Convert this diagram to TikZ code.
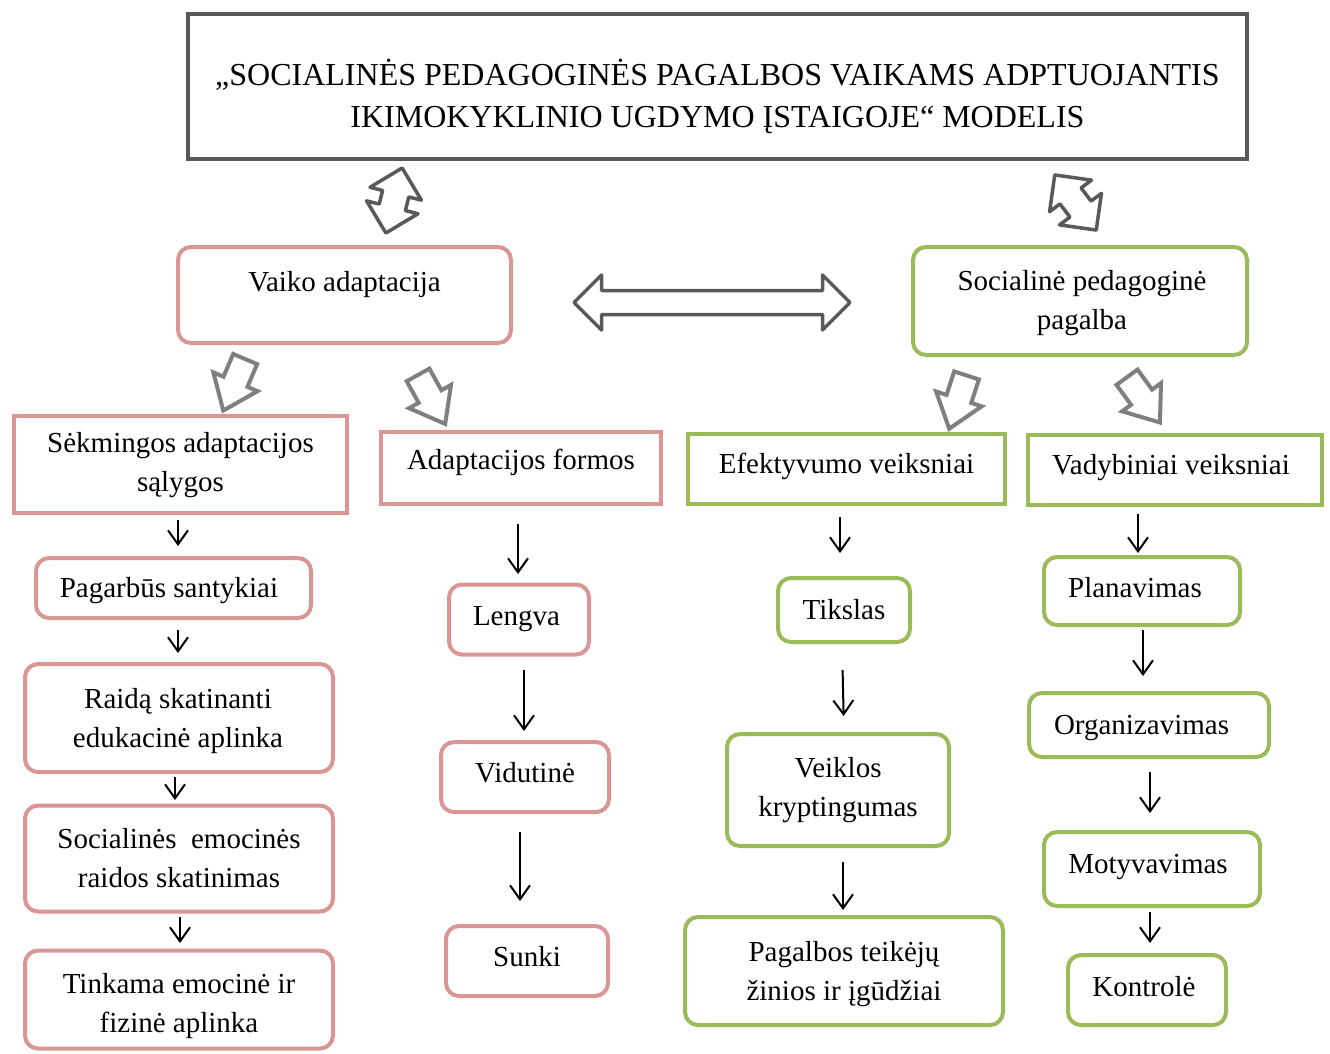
\documentclass[tikz,border=0pt]{standalone}
\usepackage{fontspec}
\setmainfont{Liberation Serif}
\usetikzlibrary{shapes.arrows,arrows.meta}
\definecolor{pinkb}{HTML}{D99694}
\definecolor{greenb}{HTML}{9BBB59}
\definecolor{titleg}{HTML}{595959}
\definecolor{arrg}{HTML}{7F7F7F}
\newcommand{\bt}[3]{\raisebox{\dimexpr#2-2pt\relax}[\height][\depth]{\kern#1\relax\begin{tabular}{@{}c@{}}#3\end{tabular}\kern-#1\relax}}
\begin{document}
\begin{tikzpicture}[x=1pt,y=-1pt,font=\fontsize{29}{39}\selectfont]
\tikzset{
  box/.style={draw, line width=4pt, inner sep=0pt},
  pbox/.style={box, draw=pinkb},
  gbox/.style={box, draw=greenb},
  rnd/.style={rounded corners=13pt},
  conn/.style={line width=2pt, -{Straight Barb[length=14pt,width=20pt]}},
  blk/.style={single arrow, draw=arrg, line width=4pt, inner xsep=0pt, inner ysep=11pt,
    minimum height=56pt, minimum width=44pt, single arrow head extend=11pt, single arrow tip angle=75},
  dblk/.style={double arrow, draw=titleg, line width=3.5pt, line join=round, inner xsep=0pt}
}
\path[fill=white, use as bounding box] (0,0) rectangle (1330,1053);

% title
\node[box, draw=titleg, minimum width=1059pt, minimum height=145pt, font=\fontsize{32}{42}\selectfont] (title) at (717.5,86.5)
  {\bt{0pt}{-9.5pt}{„SOCIALINĖS PEDAGOGINĖS PAGALBOS VAIKAMS ADPTUOJANTIS\\IKIMOKYKLINIO UGDYMO ĮSTAIGOJE“ MODELIS}};

% level 1
\node[pbox, rnd, minimum width=333pt, minimum height=96pt] (va) at (344.5,295) {\bt{0pt}{13pt}{Vaiko adaptacija}};
\node[gbox, rnd, minimum width=334pt, minimum height=108pt] (sp) at (1080,301) {\bt{2pt}{1pt}{Socialinė pedagoginė\\pagalba}};

% double arrows
\node[dblk, inner ysep=10.25pt, minimum height=276pt, minimum width=51.5pt, double arrow head extend=15.5pt] (hd) at (712,302.5) {};
\node[dblk, inner ysep=11.75pt, rotate=76, minimum height=67pt, minimum width=49.5pt, double arrow head extend=13pt] (ud1) at (394,200.5) {};
\node[dblk, inner ysep=11.5pt, rotate=-53, minimum height=69pt, minimum width=49pt, double arrow head extend=13pt] (ud2) at (1075.5,202.5) {};

% block arrows
\node[blk, rotate=-113] (ar1) at (237.5,377) {};
\node[blk, rotate=-61] (ar2) at (427.5,392) {};
\node[blk, rotate=-108] (ar3) at (960.5,394) {};
\node[blk, rotate=-54] (ar4) at (1138.5,393) {};

% level 2
\node[pbox, minimum width=333pt, minimum height=97pt] (sek) at (180.5,464.5) {\bt{0pt}{2pt}{Sėkmingos adaptacijos\\sąlygos}};
\node[pbox, minimum width=280pt, minimum height=72pt] (af) at (521,468) {\bt{0pt}{8pt}{Adaptacijos formos}};
\node[gbox, minimum width=317pt, minimum height=70pt] (ef) at (846.5,469) {\bt{0pt}{5pt}{Efektyvumo veiksniai}};
\node[gbox, minimum width=294pt, minimum height=70pt] (vad) at (1175,469.5) {\bt{-4pt}{5pt}{Vadybiniai veiksniai}};

% column 1
\node[pbox, rnd, minimum width=275pt, minimum height=60pt] (pag) at (173.5,588) {\bt{-4.5pt}{0pt}{Pagarbūs santykiai}};
\node[pbox, rnd, minimum width=308pt, minimum height=108pt] (rai) at (179,718) {\bt{-1pt}{0pt}{Raidą skatinanti\\edukacinė aplinka}};
\node[pbox, rnd, minimum width=308pt, minimum height=106pt] (soc) at (179,858.5) {\bt{0pt}{0pt}{Socialinės\ \ emocinės\\raidos skatinimas}};
\node[pbox, rnd, minimum width=308pt, minimum height=98pt] (tin) at (179,999.5) {\bt{0pt}{-3.5pt}{Tinkama emocinė ir\\fizinė aplinka}};

% column 2
\node[pbox, rnd, minimum width=140pt, minimum height=70pt] (len) at (519,619.5) {\bt{-2.5pt}{3.5pt}{Lengva}};
\node[pbox, rnd, minimum width=168pt, minimum height=70pt] (vid) at (525,777) {\bt{0pt}{4pt}{Vidutinė}};
\node[pbox, rnd, minimum width=162pt, minimum height=70pt] (sun) at (527,961) {\bt{0pt}{4pt}{Sunki}};

% column 3
\node[gbox, rnd, minimum width=132pt, minimum height=64pt] (tik) at (844,610) {\bt{0pt}{0pt}{Tikslas}};
\node[gbox, rnd, minimum width=222pt, minimum height=112pt] (vei) at (838,790) {\bt{0pt}{2.5pt}{Veiklos\\kryptingumas}};
\node[gbox, rnd, minimum width=318pt, minimum height=108pt] (pgl) at (844,971) {\bt{0pt}{0pt}{Pagalbos teikėjų\\žinios ir įgūdžiai}};

% column 4
\node[gbox, rnd, minimum width=196pt, minimum height=68pt] (pla) at (1142,591) {\bt{-7pt}{3pt}{Planavimas}};
\node[gbox, rnd, minimum width=240pt, minimum height=64pt] (org) at (1149,725) {\bt{-7.5pt}{0pt}{Organizavimas}};
\node[gbox, rnd, minimum width=216pt, minimum height=74pt] (mot) at (1152,869) {\bt{-4pt}{5pt}{Motyvavimas}};
\node[gbox, rnd, minimum width=158pt, minimum height=70pt] (kon) at (1147,990) {\bt{-3pt}{3pt}{Kontrolė}};

% connectors column 1
\draw[conn, shorten <=5pt, shorten >=10pt] ([xshift=-2.5pt]sek.south) -- ([xshift=4.5pt]pag.north);
\draw[conn, shorten <=10pt, shorten >=9pt] ([xshift=4.5pt]pag.south) -- ([xshift=-1pt]rai.north);
\draw[conn, shorten <=3pt, shorten >=3.5pt] ([xshift=-4pt]rai.south) -- ([xshift=-4pt]soc.north);
\draw[conn, shorten <=3.5pt, shorten >=5.5pt] ([xshift=1pt]soc.south) -- ([xshift=1pt]tin.north);
% column 2
\draw[conn, shorten <=18pt, shorten >=8.5pt] ([xshift=-3pt]af.south) -- ([xshift=-1pt]len.north);
\draw[conn, shorten <=13.5pt, shorten >=9pt] ([xshift=5pt]len.south) -- ([xshift=-1pt]vid.north);
\draw[conn, shorten <=18pt, shorten >=23pt] ([xshift=-5pt]vid.south) -- ([xshift=-7pt]sun.north);
% column 3
\draw[conn, shorten <=11pt, shorten >=23pt] ([xshift=-6.5pt]ef.south) -- ([xshift=-4pt]tik.north);
\draw[conn, shorten <=26pt, shorten >=16pt] ([xshift=-2pt]tik.south) -- ([xshift=6pt]vei.north);
\draw[conn, shorten <=14pt, shorten >=5pt] ([xshift=5pt]vei.south) -- ([xshift=-1pt]pgl.north);
% column 4
\draw[conn, shorten <=7.5pt, shorten >=2pt] ([xshift=-37pt]vad.south) -- ([xshift=-4pt]pla.north);
\draw[conn, shorten <=3pt, shorten >=15pt] ([xshift=1pt]pla.south) -- ([xshift=-6pt]org.north);
\draw[conn, shorten <=13pt, shorten >=17pt] ([xshift=1pt]org.south) -- ([xshift=-2pt]mot.north);
\draw[conn, shorten <=4pt, shorten >=10pt] ([xshift=-2pt]mot.south) -- ([xshift=3pt]kon.north);
\end{tikzpicture}
\end{document}
